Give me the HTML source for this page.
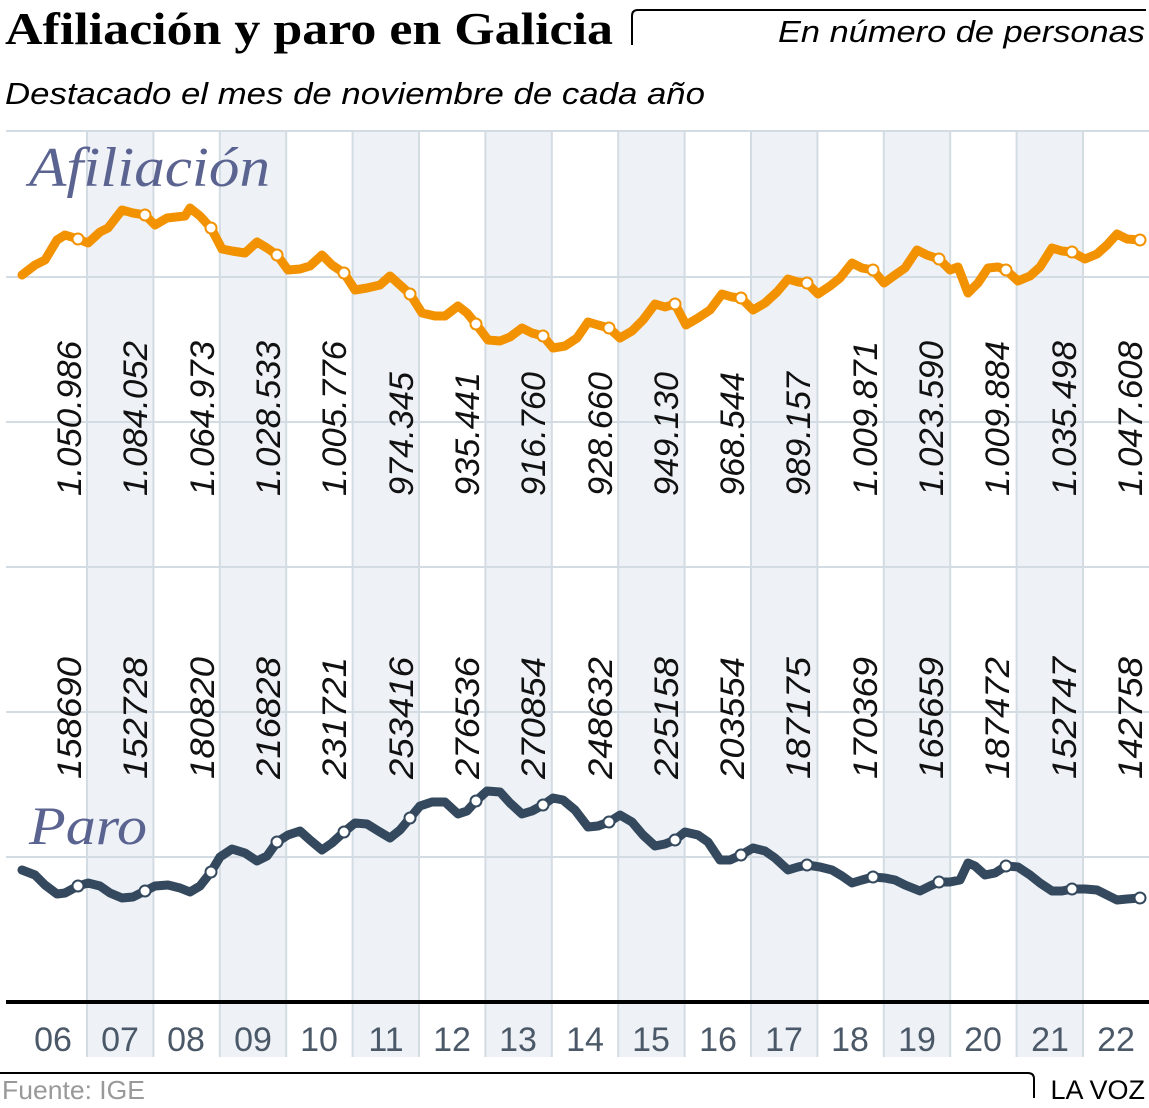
<!DOCTYPE html>
<html><head><meta charset="utf-8"><style>
html,body{margin:0;padding:0;background:#fff;width:1149px;height:1108px;overflow:hidden}
svg{display:block}
</style></head><body>
<svg width="1149" height="1108" viewBox="0 0 1149 1108" xmlns="http://www.w3.org/2000/svg">
<g fill="#eef2f7">
<rect x="87" y="131" width="66.4" height="926"/>
<rect x="219.8" y="131" width="66.4" height="926"/>
<rect x="352.6" y="131" width="66.4" height="926"/>
<rect x="485.4" y="131" width="66.4" height="926"/>
<rect x="618.2" y="131" width="66.4" height="926"/>
<rect x="751" y="131" width="66.4" height="926"/>
<rect x="883.8" y="131" width="66.4" height="926"/>
<rect x="1016.6" y="131" width="66.4" height="926"/>
</g>
<g stroke="#d3dbe3" stroke-width="2">
<line x1="6" y1="131" x2="1149" y2="131"/>
<line x1="6" y1="277" x2="1149" y2="277"/>
<line x1="6" y1="422" x2="1149" y2="422"/>
<line x1="6" y1="567" x2="1149" y2="567"/>
<line x1="6" y1="712" x2="1149" y2="712"/>
<line x1="6" y1="857" x2="1149" y2="857"/>
<line x1="87" y1="131" x2="87" y2="1057"/><line x1="153.4" y1="131" x2="153.4" y2="1057"/>
<line x1="219.8" y1="131" x2="219.8" y2="1057"/><line x1="286.2" y1="131" x2="286.2" y2="1057"/>
<line x1="352.6" y1="131" x2="352.6" y2="1057"/><line x1="419" y1="131" x2="419" y2="1057"/>
<line x1="485.4" y1="131" x2="485.4" y2="1057"/><line x1="551.8" y1="131" x2="551.8" y2="1057"/>
<line x1="618.2" y1="131" x2="618.2" y2="1057"/><line x1="684.6" y1="131" x2="684.6" y2="1057"/>
<line x1="751" y1="131" x2="751" y2="1057"/><line x1="817.4" y1="131" x2="817.4" y2="1057"/>
<line x1="883.8" y1="131" x2="883.8" y2="1057"/><line x1="950.2" y1="131" x2="950.2" y2="1057"/>
<line x1="1016.6" y1="131" x2="1016.6" y2="1057"/><line x1="1083" y1="131" x2="1083" y2="1057"/>
</g>
<line x1="6" y1="1002" x2="1149" y2="1002" stroke="#000" stroke-width="4"/>

<text x="5" y="44" font-family="Liberation Serif, serif" font-weight="bold" font-size="46" textLength="608" lengthAdjust="spacingAndGlyphs">Afiliación y paro en Galicia</text>
<path d="M632 45 V16 Q632 10 638 10 H1146" fill="none" stroke="#000" stroke-width="2"/>
<text x="778" y="42" font-family="Liberation Sans, sans-serif" font-style="italic" font-size="31" textLength="367" lengthAdjust="spacingAndGlyphs">En número de personas</text>
<text x="5" y="104" font-family="Liberation Sans, sans-serif" font-style="italic" font-size="31" textLength="700" lengthAdjust="spacingAndGlyphs">Destacado el mes de noviembre de cada año</text>

<text x="29" y="186" font-family="Liberation Serif, serif" font-style="italic" font-size="56" fill="#5b6390" textLength="241" lengthAdjust="spacingAndGlyphs">Afiliación</text>
<text x="29" y="844" font-family="Liberation Serif, serif" font-style="italic" font-size="54" fill="#5b6390" textLength="118" lengthAdjust="spacingAndGlyphs">Paro</text>

<polyline fill="none" stroke="#f39200" stroke-width="9" stroke-linejoin="round" stroke-linecap="round" points="22,275 35,265 45,260 57,240 65,235 78,239 88,243 100,232 108,228 122,210 133,213 145,215 155,225 167,218 185,216 190,208 200,216 211,228 222,249 232,251 245,253 257,242 267,248 277,255 288,270 300,269 310,266 322,255 332,265 344,273 355,290 367,288 380,285 390,276 400,285 410,294 422,313 435,316 445,316 458,306 467,313 476,324 488,340 500,341 510,337 522,328 532,333 543,336 553,348 565,346 577,338 588,322 598,325 609,328 620,338 632,331 643,320 655,304 665,307 675,304 686,325 698,318 710,310 722,294 732,297 741,298 753,310 765,303 777,292 788,279 798,282 807,283 818,294 830,286 840,278 852,263 862,268 873,270 884,283 895,275 905,268 917,250 927,255 939,259 950,270 958,267 968,293 978,283 988,268 998,267 1006,270 1018,281 1030,276 1040,267 1052,248 1062,251 1072,252 1085,259 1097,254 1107,245 1117,234 1127,239 1140,240"/>
<g fill="#fff" stroke="#f39200" stroke-width="2">
<circle cx="78" cy="239" r="5.5"/><circle cx="145" cy="215" r="5.5"/><circle cx="211" cy="228" r="5.5"/><circle cx="277" cy="255" r="5.5"/><circle cx="344" cy="273" r="5.5"/><circle cx="410" cy="294" r="5.5"/><circle cx="476" cy="324" r="5.5"/><circle cx="543" cy="336" r="5.5"/><circle cx="609" cy="328" r="5.5"/><circle cx="675" cy="304" r="5.5"/><circle cx="741" cy="298" r="5.5"/><circle cx="807" cy="283" r="5.5"/><circle cx="873" cy="270" r="5.5"/><circle cx="939" cy="259" r="5.5"/><circle cx="1006" cy="270" r="5.5"/><circle cx="1072" cy="252" r="5.5"/><circle cx="1140" cy="240" r="5.5"/>
</g>

<polyline fill="none" stroke="#34495e" stroke-width="9" stroke-linejoin="round" stroke-linecap="round" points="22,870 35,875 45,885 57,894 65,893 78,886 88,883 100,886 110,893 122,898 133,897 145,891 155,886 168,885 180,888 190,892 200,886 211,872 220,857 232,849 245,853 257,861 267,856 277,842 288,835 300,831 310,840 322,850 332,843 344,832 355,823 367,824 380,832 390,838 400,830 410,818 420,806 432,802 445,802 458,814 467,811 476,801 487,791 500,792 510,803 522,814 532,811 543,805 553,798 563,800 575,810 588,827 598,826 609,822 620,815 632,822 643,835 655,846 665,844 675,840 685,832 698,835 708,842 720,860 730,860 741,855 753,848 765,851 775,858 788,870 798,867 807,865 820,867 832,870 842,876 852,883 862,880 873,877 885,878 895,880 905,885 920,891 930,886 939,882 950,882 960,880 968,863 975,866 985,875 995,873 1006,866 1018,867 1030,875 1040,883 1052,891 1062,891 1072,889 1085,889 1097,890 1107,895 1117,900 1127,899 1140,898"/>
<g fill="#fff" stroke="#34495e" stroke-width="2">
<circle cx="78" cy="886" r="5.5"/><circle cx="145" cy="891" r="5.5"/><circle cx="211" cy="872" r="5.5"/><circle cx="277" cy="842" r="5.5"/><circle cx="344" cy="832" r="5.5"/><circle cx="410" cy="818" r="5.5"/><circle cx="476" cy="801" r="5.5"/><circle cx="543" cy="805" r="5.5"/><circle cx="609" cy="822" r="5.5"/><circle cx="675" cy="840" r="5.5"/><circle cx="741" cy="855" r="5.5"/><circle cx="807" cy="865" r="5.5"/><circle cx="873" cy="877" r="5.5"/><circle cx="939" cy="882" r="5.5"/><circle cx="1006" cy="866" r="5.5"/><circle cx="1072" cy="889" r="5.5"/><circle cx="1140" cy="898" r="5.5"/>
</g>

<g font-family="Liberation Sans, sans-serif" font-style="italic" font-size="34" fill="#111">
<text transform="translate(81,496) rotate(-90)" textLength="155" lengthAdjust="spacingAndGlyphs">1.050.986</text>
<text transform="translate(147,496) rotate(-90)" textLength="155" lengthAdjust="spacingAndGlyphs">1.084.052</text>
<text transform="translate(214,496) rotate(-90)" textLength="155" lengthAdjust="spacingAndGlyphs">1.064.973</text>
<text transform="translate(280,496) rotate(-90)" textLength="155" lengthAdjust="spacingAndGlyphs">1.028.533</text>
<text transform="translate(346,496) rotate(-90)" textLength="155" lengthAdjust="spacingAndGlyphs">1.005.776</text>
<text transform="translate(413,496) rotate(-90)" textLength="124" lengthAdjust="spacingAndGlyphs">974.345</text>
<text transform="translate(479,496) rotate(-90)" textLength="124" lengthAdjust="spacingAndGlyphs">935.441</text>
<text transform="translate(545,496) rotate(-90)" textLength="124" lengthAdjust="spacingAndGlyphs">916.760</text>
<text transform="translate(612,496) rotate(-90)" textLength="124" lengthAdjust="spacingAndGlyphs">928.660</text>
<text transform="translate(678,496) rotate(-90)" textLength="124" lengthAdjust="spacingAndGlyphs">949.130</text>
<text transform="translate(744,496) rotate(-90)" textLength="124" lengthAdjust="spacingAndGlyphs">968.544</text>
<text transform="translate(810,496) rotate(-90)" textLength="124" lengthAdjust="spacingAndGlyphs">989.157</text>
<text transform="translate(877,496) rotate(-90)" textLength="155" lengthAdjust="spacingAndGlyphs">1.009.871</text>
<text transform="translate(943,496) rotate(-90)" textLength="155" lengthAdjust="spacingAndGlyphs">1.023.590</text>
<text transform="translate(1009,496) rotate(-90)" textLength="155" lengthAdjust="spacingAndGlyphs">1.009.884</text>
<text transform="translate(1076,496) rotate(-90)" textLength="155" lengthAdjust="spacingAndGlyphs">1.035.498</text>
<text transform="translate(1142,496) rotate(-90)" textLength="155" lengthAdjust="spacingAndGlyphs">1.047.608</text>

<text transform="translate(81,779) rotate(-90)" textLength="122" lengthAdjust="spacingAndGlyphs">158690</text>
<text transform="translate(147,779) rotate(-90)" textLength="122" lengthAdjust="spacingAndGlyphs">152728</text>
<text transform="translate(214,779) rotate(-90)" textLength="122" lengthAdjust="spacingAndGlyphs">180820</text>
<text transform="translate(280,779) rotate(-90)" textLength="122" lengthAdjust="spacingAndGlyphs">216828</text>
<text transform="translate(346,779) rotate(-90)" textLength="122" lengthAdjust="spacingAndGlyphs">231721</text>
<text transform="translate(413,779) rotate(-90)" textLength="122" lengthAdjust="spacingAndGlyphs">253416</text>
<text transform="translate(479,779) rotate(-90)" textLength="122" lengthAdjust="spacingAndGlyphs">276536</text>
<text transform="translate(545,779) rotate(-90)" textLength="122" lengthAdjust="spacingAndGlyphs">270854</text>
<text transform="translate(612,779) rotate(-90)" textLength="122" lengthAdjust="spacingAndGlyphs">248632</text>
<text transform="translate(678,779) rotate(-90)" textLength="122" lengthAdjust="spacingAndGlyphs">225158</text>
<text transform="translate(744,779) rotate(-90)" textLength="122" lengthAdjust="spacingAndGlyphs">203554</text>
<text transform="translate(810,779) rotate(-90)" textLength="122" lengthAdjust="spacingAndGlyphs">187175</text>
<text transform="translate(877,779) rotate(-90)" textLength="122" lengthAdjust="spacingAndGlyphs">170369</text>
<text transform="translate(943,779) rotate(-90)" textLength="122" lengthAdjust="spacingAndGlyphs">165659</text>
<text transform="translate(1009,779) rotate(-90)" textLength="122" lengthAdjust="spacingAndGlyphs">187472</text>
<text transform="translate(1076,779) rotate(-90)" textLength="122" lengthAdjust="spacingAndGlyphs">152747</text>
<text transform="translate(1142,779) rotate(-90)" textLength="122" lengthAdjust="spacingAndGlyphs">142758</text>
</g>

<g font-family="Liberation Sans, sans-serif" font-size="34" fill="#4b5868" text-anchor="middle">
<text x="53" y="1051">06</text><text x="120" y="1051">07</text><text x="186" y="1051">08</text><text x="253" y="1051">09</text><text x="319" y="1051">10</text><text x="386" y="1051">11</text><text x="452" y="1051">12</text><text x="518" y="1051">13</text><text x="585" y="1051">14</text><text x="651" y="1051">15</text><text x="718" y="1051">16</text><text x="784" y="1051">17</text><text x="850" y="1051">18</text><text x="917" y="1051">19</text><text x="983" y="1051">20</text><text x="1050" y="1051">21</text><text x="1116" y="1051">22</text>
</g>

<path d="M0 1073 H1028 Q1034 1073 1034 1079 V1098" fill="none" stroke="#000" stroke-width="2"/>
<text x="2" y="1099" font-family="Liberation Sans, sans-serif" font-size="26" fill="#999" textLength="143" lengthAdjust="spacingAndGlyphs">Fuente:  IGE</text>
<text x="1145" y="1099" text-anchor="end" font-family="Liberation Sans, sans-serif" font-size="27" fill="#000">LA VOZ</text>
</svg>
</body></html>
